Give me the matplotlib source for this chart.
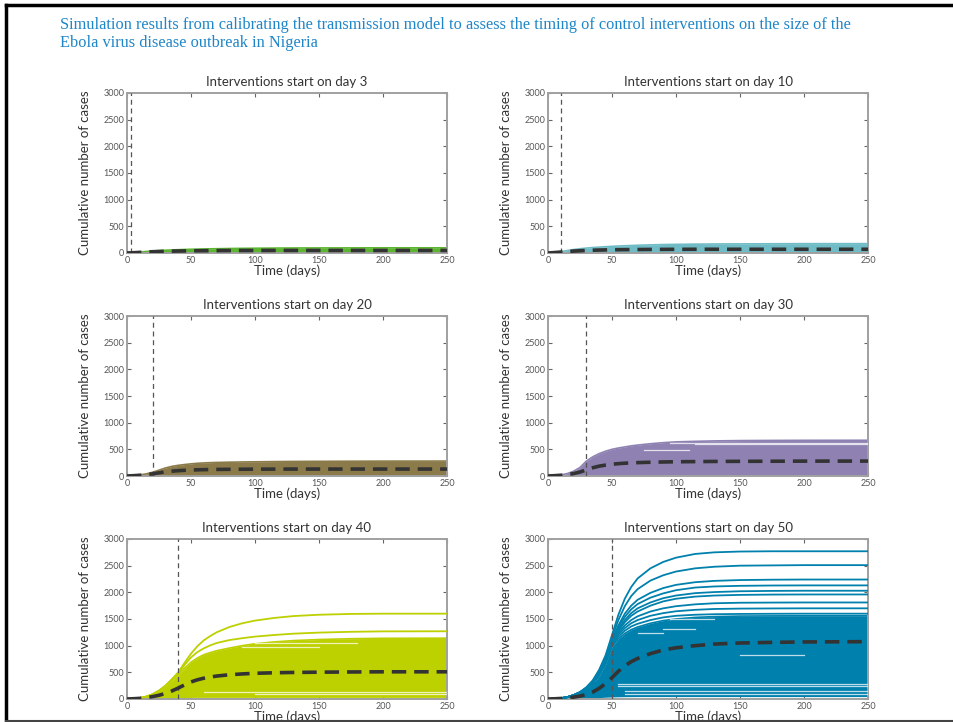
import matplotlib
matplotlib.use("Agg")
import matplotlib.pyplot as plt
from matplotlib.lines import Line2D

# ---------------- data ----------------
days = [0, 5, 10, 15, 20, 25, 30, 35, 40, 45, 50, 55, 60, 65, 70, 80, 90, 100, 115, 130, 150, 175, 200, 250]
start_days = [3, 10, 20, 30, 40, 50]
panel_colors = ["#5cb531", "#70bcc6", "#8c7b4a", "#8f82b3", "#bdd000", "#0080ad"]

# upper edge of the dense bundle of simulated curves
band_upper = [
    [0, 8, 18, 28, 38, 45, 52, 57, 62, 66, 70, 73, 76, 78, 80, 84, 87, 89, 92, 94, 95, 96, 97, 97],
    [0, 10, 25, 45, 65, 80, 92, 102, 110, 118, 125, 131, 136, 140, 145, 152, 158, 162, 166, 169, 171, 173, 175, 175],
    [0, 8, 20, 40, 70, 110, 150, 180, 200, 215, 228, 238, 245, 250, 254, 259, 263, 266, 270, 273, 275, 277, 279, 280],
    [0, 8, 20, 45, 90, 160, 280, 360, 420, 465, 500, 525, 545, 565, 580, 605, 625, 640, 650, 658, 664, 667, 669, 670],
    [0, 8, 20, 45, 90, 150, 235, 340, 450, 580, 690, 770, 830, 870, 905, 955, 1000, 1035, 1070, 1095, 1115, 1130, 1138, 1140],
    [0, 6, 15, 35, 70, 120, 190, 290, 430, 650, 980, 1130, 1230, 1300, 1350, 1420, 1470, 1500, 1530, 1545, 1555, 1558, 1560, 1560],
]
# lower edge of the bundle
band_lower = [
    [0, 2, 4, 6, 8, 9, 10, 10, 10, 10, 10, 10, 10, 10, 10, 10, 10, 10, 10, 10, 10, 10, 10, 10],
    [0, 2, 4, 6, 8, 10, 11, 12, 12, 12, 12, 12, 12, 12, 12, 12, 12, 12, 12, 12, 12, 12, 12, 12],
    [0, 2, 4, 6, 8, 10, 12, 13, 14, 15, 15, 15, 15, 15, 15, 15, 15, 15, 15, 15, 15, 15, 15, 15],
    [0, 2, 4, 6, 9, 12, 16, 19, 21, 22, 23, 24, 25, 25, 25, 25, 25, 25, 25, 25, 25, 25, 25, 25],
    [0, 2, 4, 6, 9, 12, 16, 20, 24, 27, 29, 30, 30, 30, 30, 30, 30, 30, 30, 30, 30, 30, 30, 30],
    [0, 2, 4, 6, 9, 12, 16, 21, 27, 33, 38, 41, 43, 44, 45, 45, 45, 45, 45, 45, 45, 45, 45, 45],
]
# median of simulations (dashed black)
median = [
    [0, 5, 12, 18, 24, 28, 32, 35, 37, 39, 41, 42, 43, 44, 45, 46, 47, 47, 48, 48, 48, 48, 48, 48],
    [0, 8, 18, 28, 36, 42, 48, 52, 55, 58, 60, 62, 63, 64, 65, 67, 68, 69, 70, 70, 70, 70, 70, 70],
    [0, 6, 14, 25, 40, 60, 78, 90, 100, 107, 112, 116, 119, 121, 123, 125, 127, 128, 129, 130, 130, 130, 130, 130],
    [0, 6, 14, 28, 45, 75, 115, 155, 185, 205, 220, 232, 240, 246, 251, 258, 263, 267, 270, 273, 275, 277, 279, 280],
    [0, 5, 12, 25, 45, 70, 105, 150, 205, 265, 320, 360, 390, 412, 430, 455, 470, 482, 492, 498, 503, 507, 510, 510],
    [0, 4, 10, 20, 35, 55, 85, 130, 200, 290, 400, 520, 620, 700, 760, 850, 920, 960, 1000, 1030, 1050, 1062, 1070, 1075],
]
# individual simulated curves standing out above the bundle
outliers = [
    [], [], [], [],
    [
        [0, 8, 20, 45, 90, 160, 250, 370, 500, 680, 850, 990, 1100, 1180, 1250, 1350, 1420, 1470, 1520, 1555, 1580, 1595, 1600, 1600],
        [0, 8, 20, 45, 90, 155, 245, 360, 480, 640, 780, 880, 950, 1005, 1050, 1105, 1140, 1170, 1200, 1225, 1245, 1260, 1268, 1270],
    ],
    [
        [0, 6, 15, 35, 75, 130, 220, 350, 550, 820, 1200, 1580, 1880, 2100, 2260, 2450, 2570, 2650, 2720, 2750, 2765, 2770, 2770, 2770],
        [0, 6, 15, 35, 75, 130, 215, 340, 530, 790, 1150, 1480, 1740, 1930, 2060, 2220, 2320, 2390, 2450, 2480, 2500, 2505, 2510, 2510],
        [0, 6, 15, 35, 72, 125, 205, 325, 510, 760, 1100, 1380, 1600, 1750, 1860, 1990, 2080, 2140, 2190, 2215, 2230, 2237, 2240, 2240],
        [0, 6, 15, 35, 72, 125, 200, 320, 500, 745, 1080, 1350, 1540, 1680, 1780, 1900, 1980, 2040, 2090, 2110, 2122, 2128, 2130, 2130],
        [0, 6, 15, 34, 70, 122, 198, 315, 495, 735, 1060, 1310, 1480, 1610, 1700, 1810, 1890, 1940, 1985, 2005, 2020, 2027, 2030, 2030],
        [0, 6, 15, 34, 70, 120, 195, 310, 485, 725, 1050, 1280, 1440, 1560, 1640, 1750, 1830, 1880, 1920, 1940, 1952, 1958, 1960, 1960],
        [0, 6, 15, 34, 70, 120, 193, 305, 475, 710, 1040, 1240, 1380, 1480, 1550, 1640, 1700, 1740, 1775, 1795, 1805, 1808, 1810, 1810],
        [0, 6, 15, 34, 70, 120, 192, 300, 465, 690, 1030, 1210, 1330, 1420, 1480, 1560, 1610, 1645, 1672, 1688, 1695, 1698, 1700, 1700],
        [0, 6, 15, 34, 70, 120, 190, 295, 450, 670, 1010, 1170, 1280, 1360, 1410, 1480, 1530, 1560, 1580, 1590, 1595, 1598, 1600, 1600],
    ],
]
# thin gaps between neighbouring curves inside the bundle (level, first day, last day)
gap_levels = [
    [], [], [],
    [[625, 95, 250], [605, 115, 250], [480, 75, 110]],
    [[130, 60, 250], [100, 100, 250], [1050, 100, 180], [980, 90, 150]],
    [[290, 55, 250], [240, 55, 250], [150, 60, 250], [95, 60, 250],
     [1500, 95, 130], [1320, 90, 115], [1230, 70, 90], [820, 150, 200]],
]

y_ticks = [0, 500, 1000, 1500, 2000, 2500, 3000]
x_ticks = [0, 50, 100, 150, 200, 250]
title_text = ("Simulation results from calibrating the transmission model to assess the timing of control interventions on the size of the\n"
              "Ebola virus disease outbreak in Nigeria")

# ---------------- figure ----------------
plt.rcParams['font.family'] = ['Lato', 'DejaVu Sans']
W, H = 954, 722
fig = plt.figure(figsize=(W / 100, H / 100), dpi=100)

lefts = [127, 548]
tops = [93, 316, 539]
aw, ah = 320, 160

gray = "#a0a0a0"
for i in range(6):
    r, c = divmod(i, 2)
    ax = fig.add_axes([lefts[c] / W, 1 - (tops[r] + ah) / H, aw / W, ah / H])
    col = panel_colors[i]
    ax.fill_between(days, band_lower[i], band_upper[i], color=col, lw=0, zorder=2)
    ax.plot(days, band_upper[i], color=col, lw=1.2, zorder=2)
    for lvl, d0, d1 in gap_levels[i]:
        ax.plot([d0, d1], [lvl, lvl], color="white", lw=0.9, alpha=0.75, zorder=3)
    for curve in outliers[i]:
        ax.plot(days, curve, color=col, lw=1.3, zorder=3)
    ax.axvline(start_days[i], color="#555555", lw=0.9, dashes=(4, 3), zorder=4)
    ax.plot(days, median[i], color="#333333", lw=2.6, dashes=(4, 2.2), zorder=5)

    ax.set_xlim(0, 250)
    ax.set_ylim(0, 3000)
    ax.set_xticks(x_ticks)
    ax.set_yticks(y_ticks)
    ax.tick_params(direction="in", length=3, width=0.8, color="#666666",
                   labelsize=6.5, labelcolor="#555555", top=True, right=True, pad=2)
    for s in ax.spines.values():
        s.set_color(gray)
        s.set_linewidth(1.4)
    ax.set_title(f"Interventions start on day {start_days[i]}", fontsize=9.5,
                 color="#333333", pad=5)
    ax.set_xlabel("Time (days)", fontsize=9.5, color="#333333", labelpad=0)
    ax.set_ylabel("Cumulative number of cases", fontsize=9.5, color="#333333", labelpad=9)

fig.text(60 / W, 1 - 17 / H, title_text, fontsize=11.8, color="#1f86c8",
         family=["Liberation Serif", "DejaVu Serif"], va="top", ha="left",
         linespacing=1.15)

# page frame
fig.add_artist(Line2D([6 / W, 1], [1 - 5 / H, 1 - 5 / H], color="black", lw=2.5,
                      transform=fig.transFigure))
fig.add_artist(Line2D([6 / W, 6 / W], [1 - 5 / H, 1 / H], color="black", lw=2.5,
                      transform=fig.transFigure))
fig.add_artist(Line2D([6 / W, 1], [1.5 / H, 1.5 / H], color="#444444", lw=1.5,
                      transform=fig.transFigure))

fig.savefig("out.png", dpi=100)
